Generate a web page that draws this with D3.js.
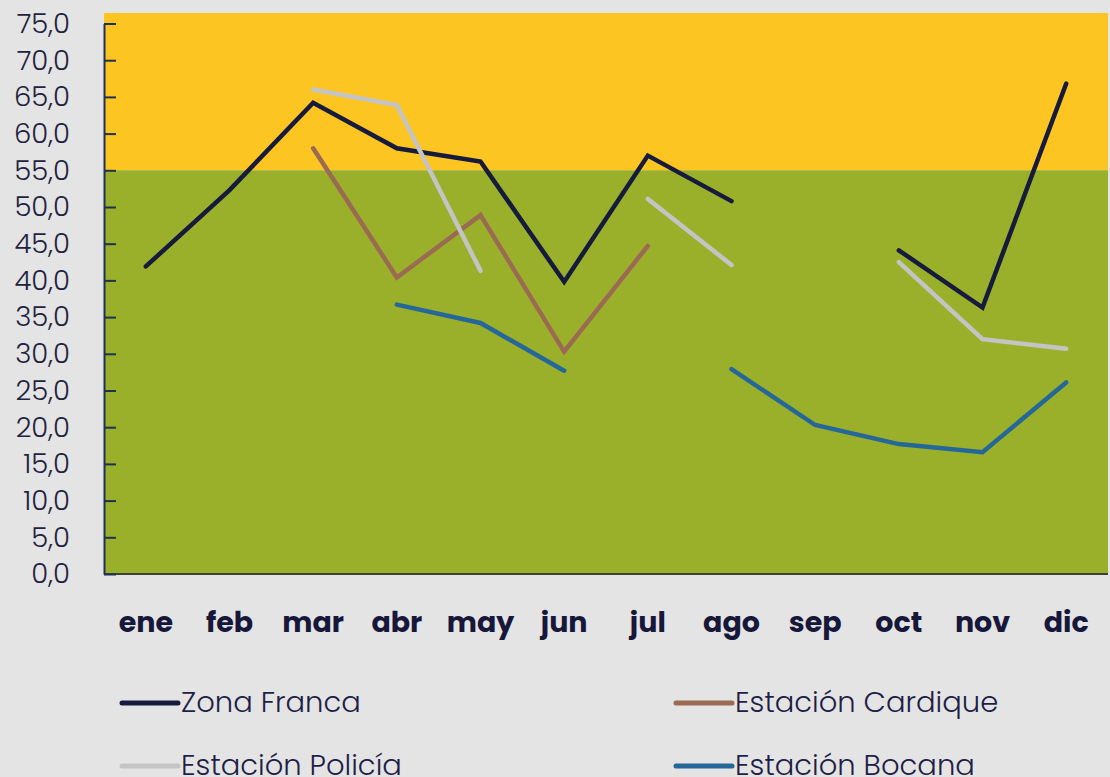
<!DOCTYPE html>
<html>
<head>
<meta charset="utf-8">
<script src="https://cdn.jsdelivr.net/npm/d3@7"></script>
<style>
  html, body { margin: 0; padding: 0; background: #e4e4e4; }
  svg { display: block; }
</style>
</head>
<body>
<svg id="chart" width="1110" height="777"></svg>
<script>
const months = ["ene","feb","mar","abr","may","jun","jul","ago","sep","oct","nov","dic"];
const zonaFranca = [41.9, 52.3, 64.2, 58.0, 56.2, 39.8, 57.0, 50.8, null, 44.1, 36.3, 66.8];
const cardique   = [null, null, 58.0, 40.4, 48.9, 30.3, 44.7, null, null, null, null, null];
const policia    = [null, null, 66.0, 63.9, 41.3, null, 51.1, 42.1, null, 42.5, 32.0, 30.7];
const bocana     = [null, null, null, 36.7, 34.2, 27.7, null, 27.9, 20.3, 17.7, 16.6, 26.1];
const yTicks = [0,5,10,15,20,25,30,35,40,45,50,55,60,65,70,75];
const bandLimit = 55;
const seriesNames = ["Zona Franca","Estación Cardique","Estación Policía","Estación Bocana"];

const svg = d3.select("#chart");
const left = 104, right = 1108, top0 = 13;

const x = d3.scaleBand().domain(months).range([left, right]).paddingInner(0).paddingOuter(0);
const y = d3.scaleLinear().domain([0, 75]).range([574, 23.5]);
const cx = m => x(m) + x.bandwidth() / 2;

// background bands
svg.append("rect").attr("x", left).attr("y", top0).attr("width", right - left)
  .attr("height", y(bandLimit) - top0).attr("fill", "#fcc521");
svg.append("rect").attr("x", left).attr("y", y(bandLimit)).attr("width", right - left)
  .attr("height", y(0) - y(bandLimit)).attr("fill", "#9ab02b");

// x axis line
svg.append("line").attr("x1", left).attr("x2", right).attr("y1", y(0)).attr("y2", y(0))
  .attr("stroke", "#3c3f38").attr("stroke-width", 2);

// y axis
const yAxis = d3.axisLeft(y).tickValues(yTicks).tickSizeInner(-12).tickSizeOuter(0)
  .tickPadding(34).tickFormat(d => d3.format(".1f")(d).replace(".", ","));
const ga = svg.append("g").attr("transform", `translate(${left},0)`).call(yAxis);
ga.select(".domain").attr("stroke", "#1f3054").attr("stroke-width", 2);
ga.selectAll(".tick line").attr("stroke", "#1f3054").attr("stroke-width", 2);
ga.selectAll(".tick text").attr("fill", "#22223f")
  .style("font-family", "Poppins, Inter, 'Open Sans', sans-serif")
  .style("font-size", "27.5px").style("font-weight", 300);

// x labels
svg.append("g").selectAll("text").data(months).join("text")
  .attr("x", d => cx(d)).attr("y", 632).attr("text-anchor", "middle")
  .attr("fill", "#17173a")
  .style("font-family", "Poppins, Inter, 'Open Sans', sans-serif")
  .style("font-size", "28.5px").style("font-weight", 700)
  .text(d => d);

const colors = ["#161a3d", "#9a6b52", "#c4c4c4", "#26679a"];
const data = [zonaFranca, cardique, policia, bocana];
const line = d3.line().defined(d => d.v != null).x(d => cx(d.m)).y(d => y(d.v));

const order = [0, 1, 3, 2];
order.forEach(i => {
  const pts = months.map((m, j) => ({ m, v: data[i][j] }));
  svg.append("path").datum(pts).attr("d", line).attr("fill", "none")
    .attr("stroke", colors[i]).attr("stroke-width", 4.5)
    .attr("stroke-linecap", "round").attr("stroke-linejoin", "miter");
});

// legend
const legPos = [[122, 703], [676, 703], [122, 766], [676, 766]];
seriesNames.forEach((n, i) => {
  const [lx, ly] = legPos[i];
  svg.append("line").attr("x1", lx).attr("x2", lx + 56).attr("y1", ly).attr("y2", ly)
    .attr("stroke", colors[i]).attr("stroke-width", 5).attr("stroke-linecap", "round");
  svg.append("text").attr("x", lx + 59).attr("y", ly + 9).attr("fill", "#1e1e46")
    .style("font-family", "Poppins, Inter, 'Open Sans', sans-serif")
    .style("font-size", "29px").style("font-weight", 300)
    .text(n);
});
</script>
</body>
</html>
